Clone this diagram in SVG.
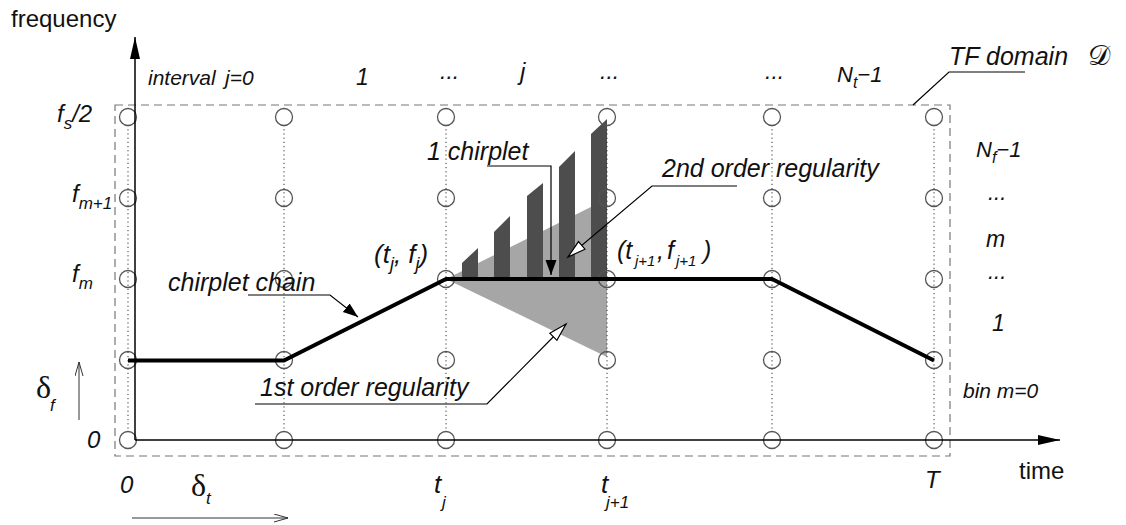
<svg xmlns="http://www.w3.org/2000/svg" width="1126" height="525" viewBox="0 0 1126 525">
<style>
.t{font-family:"Liberation Sans",Arial,sans-serif;font-style:italic;fill:#111}
.n{font-family:"Liberation Sans",Arial,sans-serif;fill:#111}
.g{font-family:"Liberation Serif","Times New Roman",serif;fill:#111}
.c{fill:none;stroke:#555;stroke-width:1.3}
.dot{stroke:#333;stroke-width:1;stroke-dasharray:1.2,3}
.ld{fill:none;stroke:#000;stroke-width:1.2}
</style>
<defs>
<marker id="fa" markerUnits="userSpaceOnUse" markerWidth="22" markerHeight="12" refX="22" refY="5" orient="auto"><path d="M0,0 L22,5 L0,10 z" fill="#000"/></marker>
<marker id="fs" markerUnits="userSpaceOnUse" markerWidth="16" markerHeight="12" refX="15" refY="5.5" orient="auto"><path d="M0,0 L15,5.5 L0,11 z" fill="#000"/></marker>
<marker id="oa" markerUnits="userSpaceOnUse" markerWidth="22" markerHeight="14" refX="19" refY="6" orient="auto"><path d="M1,1 L19,6 L1,11 z" fill="#fff" stroke="#000" stroke-width="1.2"/></marker>
<marker id="va" markerUnits="userSpaceOnUse" markerWidth="16" markerHeight="10" refX="14" refY="4" orient="auto"><path d="M0,0 L14,4 L0,8" fill="none" stroke="#333" stroke-width="1"/></marker>
</defs>

<g id="domain">
<rect x="115" y="105" width="835" height="351" fill="none" stroke="#777" stroke-width="1.2" stroke-dasharray="8,5"/>
</g>

<g id="regularity">
<polygon points="446,279 607,199 607,279" fill="#a6a6a6"/>
<polygon points="446,279 607,279 607,357" fill="#a6a6a6"/>
</g>

<g id="chirplets" fill="#4d4d4d">
<polygon points="462,279 462,263 478,248 478,279"/>
<polygon points="494,279 494,232 510,216 510,279"/>
<polygon points="527,279 527,196 543,183 543,279"/>
<polygon points="559,279 559,167 575,151 575,279"/>
<polygon points="591,279 591,134 607,119 607,279"/>
</g>

<g id="grid">
<g class="dot">
<line x1="128" y1="125" x2="128" y2="432"/>
<line x1="284" y1="125" x2="284" y2="432"/>
<line x1="446" y1="125" x2="446" y2="432"/>
<line x1="607" y1="125" x2="607" y2="432"/>
<line x1="772" y1="125" x2="772" y2="432"/>
<line x1="934" y1="125" x2="934" y2="432"/>
</g>
<g class="c">
<circle cx="128" cy="117" r="8.5"/><circle cx="128" cy="198" r="8.5"/><circle cx="128" cy="279" r="8.5"/><circle cx="128" cy="360" r="8.5"/><circle cx="128" cy="440" r="8.5"/>
<circle cx="284" cy="117" r="8.5"/><circle cx="284" cy="198" r="8.5"/><circle cx="284" cy="279" r="8.5"/><circle cx="284" cy="360" r="8.5"/><circle cx="284" cy="440" r="8.5"/>
<circle cx="446" cy="117" r="8.5"/><circle cx="446" cy="198" r="8.5"/><circle cx="446" cy="279" r="8.5"/><circle cx="446" cy="360" r="8.5"/><circle cx="446" cy="440" r="8.5"/>
<circle cx="607" cy="117" r="8.5"/><circle cx="607" cy="198" r="8.5"/><circle cx="607" cy="279" r="8.5"/><circle cx="607" cy="360" r="8.5"/><circle cx="607" cy="440" r="8.5"/>
<circle cx="772" cy="117" r="8.5"/><circle cx="772" cy="198" r="8.5"/><circle cx="772" cy="279" r="8.5"/><circle cx="772" cy="360" r="8.5"/><circle cx="772" cy="440" r="8.5"/>
<circle cx="934" cy="117" r="8.5"/><circle cx="934" cy="198" r="8.5"/><circle cx="934" cy="279" r="8.5"/><circle cx="934" cy="360" r="8.5"/><circle cx="934" cy="440" r="8.5"/>
</g>
</g>

<g id="chain">
<polyline points="128,360.5 284,360.5 446,279 772,279 934,360.5" fill="none" stroke="#000" stroke-width="4" stroke-linejoin="round"/>
</g>

<g id="connectors">
<line x1="135" y1="440" x2="135" y2="37" stroke="#000" stroke-width="1.5" marker-end="url(#fa)"/>
<line x1="135" y1="440" x2="1060" y2="440" stroke="#000" stroke-width="1.5" marker-end="url(#fa)"/>
<line x1="79" y1="420" x2="79" y2="362" stroke="#333" stroke-width="1" marker-end="url(#va)"/>
<line x1="132" y1="518" x2="288" y2="518" stroke="#333" stroke-width="1" marker-end="url(#va)"/>
<polyline class="ld" points="487,166 551,166 551,275" marker-end="url(#fs)"/>
<polyline class="ld" points="737,186 652,186 568,257" marker-end="url(#oa)"/>
<polyline class="ld" points="255,404 487,404 566,324" marker-end="url(#oa)"/>
<polyline class="ld" points="248,295 330,295 358,317" marker-end="url(#fs)"/>
<polyline class="ld" points="1025,72 949,72 913,105"/>
</g>

<g id="labels">
<text class="n" x="11" y="27" font-size="24">frequency</text>
<text class="n" x="1019" y="479" font-size="24">time</text>
<text class="t" x="148" y="85" font-size="21">interval<tspan x="225">j=0</tspan></text>
<text class="t" x="356" y="85" font-size="23">1</text>
<text class="t" x="440" y="79" font-size="23">...</text>
<text class="t" x="520" y="80" font-size="24">j</text>
<text class="t" x="600" y="79" font-size="23">...</text>
<text class="t" x="765" y="79" font-size="23">...</text>
<text class="t" x="837" y="82" font-size="22">N<tspan dy="6" font-size="16">t</tspan><tspan dy="-6">−1</tspan></text>
<text class="t" x="949" y="65" font-size="25">TF domain</text>
<text x="1088" y="65" font-size="28" font-family="DejaVu Sans, sans-serif" fill="#111">𝒟</text>

<text class="t" x="57" y="122" font-size="24">f<tspan dy="7" font-size="17">s</tspan><tspan dy="-7">/2</tspan></text>
<text class="t" x="72" y="202" font-size="24">f<tspan dy="7" font-size="17">m+1</tspan></text>
<text class="t" x="72" y="282" font-size="24">f<tspan dy="7" font-size="17">m</tspan></text>
<text class="t" x="87" y="448" font-size="24">0</text>
<text class="g" x="36" y="398" font-size="32">δ</text>
<text class="t" x="50" y="411" font-size="17">f</text>

<text class="t" x="120" y="493" font-size="24">0</text>
<text class="g" x="191" y="496" font-size="32">δ</text>
<text class="t" x="206" y="504" font-size="17">t</text>
<text class="t" x="434" y="493" font-size="26">t</text>
<text class="t" x="442" y="508" font-size="17">j</text>
<text class="t" x="601" y="493" font-size="26">t</text>
<text class="t" x="606" y="508" font-size="17">j+1</text>
<text class="t" x="925" y="488" font-size="24">T</text>

<text class="t" x="976" y="157" font-size="22">N<tspan dy="6" font-size="16">f</tspan><tspan dy="-6">−1</tspan></text>
<text class="t" x="988" y="200" font-size="22">...</text>
<text class="t" x="986" y="247" font-size="23">m</text>
<text class="t" x="988" y="279" font-size="22">...</text>
<text class="t" x="992" y="331" font-size="23">1</text>
<text class="t" x="963" y="398" font-size="21">bin m=0</text>

<text class="t" x="427" y="160" font-size="25">1 chirplet</text>
<text class="t" x="662" y="177" font-size="25">2nd order regularity</text>
<text class="t" x="260" y="396" font-size="25">1st order regularity</text>
<text class="t" x="168" y="291" font-size="25">chirplet chain</text>

<text class="t" x="374" y="263" font-size="26">(t<tspan dy="7" font-size="18">j</tspan><tspan dy="-7">, f</tspan><tspan dy="7" font-size="18">j</tspan><tspan dy="-7">)</tspan></text>
<text class="t" x="617" y="259" font-size="25">(t<tspan x="635" dy="7" font-size="15">j+1</tspan><tspan x="657" dy="-7">,</tspan><tspan x="667">f</tspan><tspan x="676" dy="7" font-size="15">j+1</tspan><tspan x="703" dy="-7">)</tspan></text>
</g>
</svg>
